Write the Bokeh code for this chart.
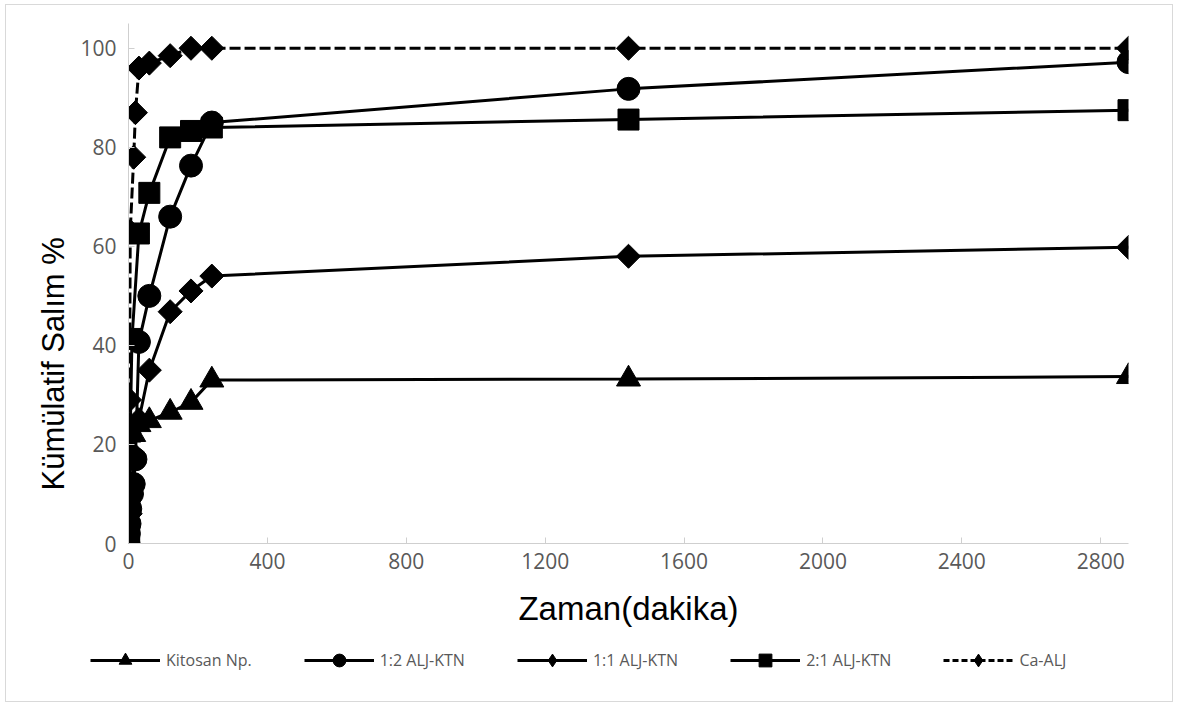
import math
from bokeh.plotting import figure
from bokeh.layouts import column
from bokeh.models import Range1d, FixedTicker, Legend, LegendItem, Title
from bokeh.embed import file_html
from bokeh.resources import INLINE

# ---- data (time in minutes, cumulative release %) ----
series_names = ["Kitosan Np.", "1:2 ALJ-KTN", "1:1 ALJ-KTN", "2:1 ALJ-KTN", "Ca-ALJ"]

t_kitosan = [0, 5, 15, 30, 60, 120, 180, 240, 1440, 2880]
v_kitosan = [0, 18.4, 22.0, 24.0, 24.8, 26.5, 28.5, 33.0, 33.2, 33.7]

t_12 = [0, 1, 3, 5, 10, 15, 20, 30, 60, 120, 180, 240, 1440, 2880]
v_12 = [0, 2.0, 4.0, 7.0, 10.0, 12.0, 17.0, 40.7, 50.0, 66.0, 76.3, 85.0, 91.8, 97.2]

t_11 = [0, 5, 10, 15, 30, 60, 120, 180, 240, 1440, 2880]
v_11 = [0, 6.0, 12.0, 18.0, 25.0, 35.0, 46.8, 51.0, 54.0, 58.0, 59.8]

t_21 = [0, 2, 3, 5, 10, 30, 60, 120, 180, 240, 1440, 2880]
v_21 = [0, 1.0, 9.0, 22.6, 41.3, 62.6, 70.8, 82.0, 83.3, 84.0, 85.6, 87.5]

t_ca = [0, 3, 5, 15, 20, 30, 60, 120, 180, 240, 1440, 2880]
v_ca = [0, 29.0, 63.0, 78.0, 87.0, 96.0, 97.0, 98.5, 100.0, 100.0, 100.0, 100.0]

x_ticks = [0, 400, 800, 1200, 1600, 2000, 2400, 2800]
y_ticks = [0, 20, 40, 60, 80, 100]

x_title = "Zaman(dakika)"
y_title = "Kümülatif Salım %"

W = 1166
H1 = 636
H2 = 60

# ---- main chart ----
p = figure(width=W, height=H1, output_backend="svg", toolbar_location=None,
           x_range=Range1d(0, 2880), y_range=Range1d(0, 105),
           min_border_left=122, min_border_right=44, min_border_top=18,
           min_border_bottom=H1 - 538)
p.outline_line_color = None
p.xgrid.visible = False
p.ygrid.visible = False
p.background_fill_color = "white"
p.border_fill_color = "white"

for ax in (p.xaxis[0], p.yaxis[0]):
    ax.axis_line_color = "#CFCFCF"
    ax.axis_line_width = 1
    ax.major_tick_line_color = "#CFCFCF"
    ax.major_tick_in = 6
    ax.major_tick_out = 0
    ax.minor_tick_line_color = None
    ax.major_label_text_font = "Open Sans"
    ax.major_label_text_font_size = "21px"
    ax.major_label_text_color = "#595959"
    ax.axis_label_text_font = "Liberation Sans"
    ax.axis_label_text_font_style = "normal"
    ax.axis_label_text_color = "black"

p.xaxis.ticker = FixedTicker(ticks=x_ticks)
p.yaxis.ticker = FixedTicker(ticks=y_ticks)
p.xaxis.axis_label = x_title
p.xaxis.axis_label_text_font_size = "33px"
p.xaxis.major_label_standoff = 9
p.yaxis.major_label_standoff = 12
p.xaxis.axis_label_standoff = 18

ytitle = Title(text=y_title, align="left", offset=53,
               text_font="Liberation Sans", text_font_size="31px",
               text_font_style="normal", text_color="black", standoff=14)
p.add_layout(ytitle, "left")

D = math.pi / 4
# (marker in chart, size, angle, marker in legend, legend size, dash)
styles = [
    ("triangle", 24, 0, "triangle", 16, None),
    ("circle", 23, 0, "circle", 13, None),
    ("square", 17, D, "diamond", 17, None),
    ("square", 21, 0, "square", 13, None),
    ("square", 17, D, "diamond", 17, "11 4"),
]
data = [(t_kitosan, v_kitosan), (t_12, v_12), (t_11, v_11), (t_21, v_21), (t_ca, v_ca)]


def draw(fig, t, v, marker, size, ang, dash, lw=3):
    kw = dict(line_color="black", line_width=lw)
    if dash:
        kw["line_dash"] = dash
    lr = fig.line(t, v, **kw)
    sr = fig.scatter(t, v, marker=marker, size=size, angle=ang,
                     fill_color="black", line_color="black")
    return lr, sr


for (t, v), (m, s, a, lm, ls, dash) in zip(data, styles):
    draw(p, t, v, m, s, a, dash)

# ---- legend strip (same series, kept outside its visible range) ----
q = figure(width=W, height=H2, output_backend="svg", toolbar_location=None,
           x_range=Range1d(0, 2880), y_range=Range1d(-20, -10),
           x_axis_location=None, y_axis_location=None,
           min_border_left=0, min_border_right=0, min_border_top=0,
           min_border_bottom=0)
if "frame_align" in q.properties():
    q.frame_align = False
q.outline_line_color = None
q.xgrid.visible = False
q.ygrid.visible = False
q.background_fill_color = "white"
q.border_fill_color = "white"

items = []
for name, (t, v), (m, s, a, lm, ls, dash) in zip(series_names, data, styles):
    lr, sr = draw(q, t, v, lm, ls, 0, "6 3" if dash else None)
    items.append(LegendItem(label=name, renderers=[lr, sr]))

legend = Legend(items=items, orientation="horizontal", location=(84, 25),
                glyph_width=70, glyph_height=32, label_standoff=6, spacing=52,
                label_text_font="Open Sans", label_text_font_size="16px",
                label_text_color="#595959", border_line_color=None,
                background_fill_alpha=0, padding=0, margin=0)
q.add_layout(legend, "center")

layout = column(p, q, spacing=0)
layout.styles = {"border": "1px solid #D9D9D9", "margin": "4px 0 0 5px"}

open("out.html", "w").write(file_html(layout, INLINE))
